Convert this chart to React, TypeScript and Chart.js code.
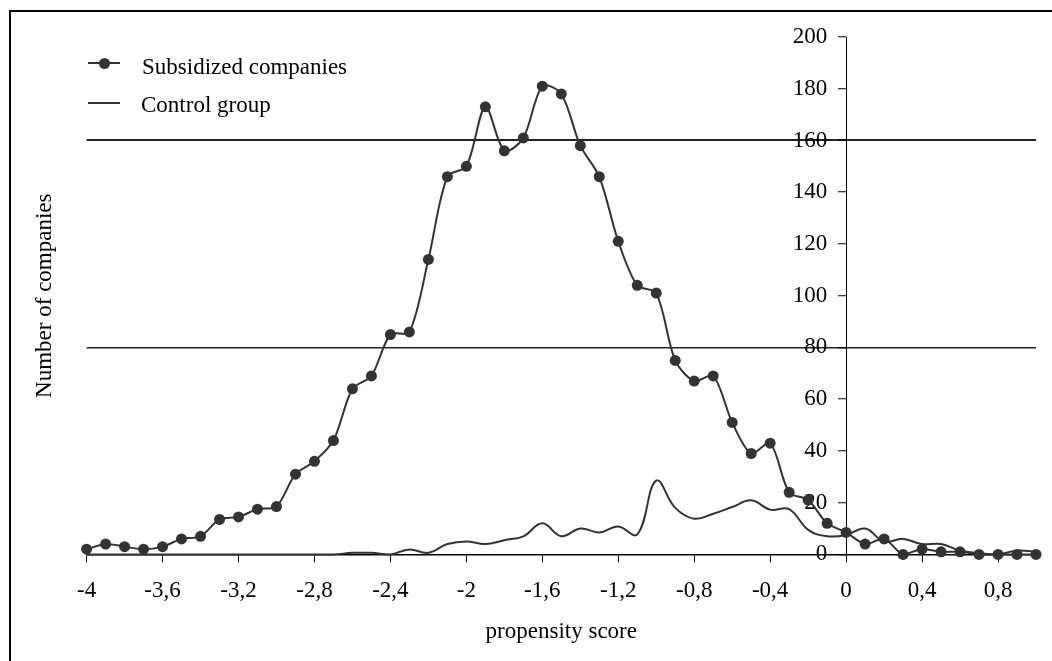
import React, { useEffect, useRef } from "react";
import { Chart, registerables } from "chart.js";

Chart.register(...registerables);

const scores = [
  -4.0, -3.9, -3.8, -3.7, -3.6, -3.5, -3.4, -3.3, -3.2, -3.1,
  -3.0, -2.9, -2.8, -2.7, -2.6, -2.5, -2.4, -2.3, -2.2, -2.1,
  -2.0, -1.9, -1.8, -1.7, -1.6, -1.5, -1.4, -1.3, -1.2, -1.1,
  -1.0, -0.9, -0.8, -0.7, -0.6, -0.5, -0.4, -0.3, -0.2, -0.1,
  0.0, 0.1, 0.2, 0.3, 0.4, 0.5, 0.6, 0.7, 0.8, 0.9, 1.0,
];

const subsidized = [
  2, 4, 3, 2, 3, 6, 7, 13.5, 14.5, 17.5,
  18.5, 31, 36, 44, 64, 69, 85, 86, 114, 146,
  150, 173, 156, 161, 181, 178, 158, 146, 121, 104,
  101, 75, 67, 69, 51, 39, 43, 24, 21, 12,
  8.5, 4, 6, 0, 2, 1, 1, 0, 0, 0, 0,
];

const control = [
  0, 0, 0, 0, 0, 0, 0, 0, 0, 0,
  0, 0, 0, 0, 0.6, 0.6, 0, 1.9, 0.6, 4,
  5, 4, 5.5, 7, 12, 7, 10, 8.5, 10.8, 7.7,
  28.5, 18, 13.8, 15.7, 18.3, 20.9, 17.3, 17.5, 9.5, 7,
  7.5, 10, 5, 6, 4, 4, 1.5, 0.5, 0, 1.5, 1,
];

const yGridValues = [80, 160];

const FONT_FAMILY = "'Liberation Serif', 'Times New Roman', serif";
const LINE = "#333333";

export default function App() {
  const canvasRef = useRef<HTMLCanvasElement | null>(null);

  useEffect(() => {
    const canvas = canvasRef.current;
    if (!canvas) return;
    const font = { family: FONT_FAMILY, size: 23 };
    const yTicks = {
      stepSize: 20,
      color: "#000",
      font,
      padding: 0,
    };
    const chart = new Chart(canvas, {
      type: "line",
      data: {
        datasets: [
          {
            label: "Subsidized companies",
            data: scores.map((x, i) => ({ x, y: subsidized[i] })),
            borderColor: LINE,
            backgroundColor: LINE,
            borderWidth: 2,
            pointRadius: 5.5,
            pointBackgroundColor: LINE,
            pointBorderWidth: 0,
            tension: 0.3,
            clip: false,
            yAxisID: "y",
          },
          {
            label: "Control group",
            data: scores.map((x, i) => ({ x, y: control[i] })),
            borderColor: LINE,
            backgroundColor: LINE,
            borderWidth: 2,
            pointRadius: 0,
            tension: 0.4,
            clip: false,
            yAxisID: "y",
          },
        ],
      },
      options: {
        animation: false,
        responsive: true,
        maintainAspectRatio: false,
        events: [],
        layout: { padding: { left: 8, top: 37, right: 16, bottom: 18 } },
        plugins: {
          legend: { display: false },
          tooltip: { enabled: false },
        },
        scales: {
          x: {
            type: "linear",
            position: "bottom",
            min: -4,
            max: 1.0,
            ticks: {
              stepSize: 0.4,
              includeBounds: false,
              autoSkip: false,
              maxRotation: 0,
              padding: 15,
              color: "#000",
              font,
              callback: (v: any) =>
                String(Math.round(Number(v) * 10) / 10).replace(".", ","),
            },
            grid: {
              drawOnChartArea: false,
              drawTicks: true,
              tickLength: 8,
              tickColor: "#000",
              tickWidth: 1,
            },
            border: { display: true, color: "#000", width: 1.5 },
            title: {
              display: true,
              text: "propensity score",
              color: "#000",
              font: { family: FONT_FAMILY, size: 23, lineHeight: 1 },
              padding: { top: 0, bottom: 0 },
            },
          },
          y: {
            type: "linear",
            position: { x: 0 },
            min: 0,
            max: 200,
            ticks: { ...yTicks, display: false },
            grid: {
              drawOnChartArea: true,
              drawTicks: true,
              tickLength: 8,
              tickColor: "#000",
              tickWidth: 1,
              lineWidth: (ctx: any) => (ctx.tick && ctx.tick.value === 160 ? 2 : 1.5),
              color: (ctx: any) =>
                ctx.tick && yGridValues.includes(ctx.tick.value)
                  ? "#222"
                  : "rgba(0,0,0,0)",
            },
            border: { display: true, color: "#000", width: 1 },
          },
          yl: {
            type: "linear",
            position: { x: -0.1 },
            min: 0,
            max: 200,
            ticks: yTicks,
            grid: { display: false, drawTicks: false },
            border: { display: false },
          },
          yt: {
            type: "linear",
            position: "left",
            display: true,
            ticks: { display: false },
            grid: { display: false, drawTicks: false },
            border: { display: false },
            title: {
              display: true,
              text: "Number of companies",
              color: "#000",
              font,
              padding: { top: 23, bottom: 28 },
            },
          },
        },
      },
    });
    return () => chart.destroy();
  }, []);

  const legendText: React.CSSProperties = {
    position: "absolute",
    fontFamily: FONT_FAMILY,
    fontSize: "23px",
    lineHeight: "23px",
    color: "#000",
    whiteSpace: "nowrap",
  };

  return (
    <div
      style={{
        position: "absolute",
        left: 0,
        top: 0,
        width: 1052,
        height: 661,
        overflow: "hidden",
        background: "#fff",
      }}
    >
      <div
        style={{
          position: "absolute",
          left: 9,
          top: 10,
          width: 1100,
          height: 700,
          borderTop: "2px solid #000",
          borderLeft: "2px solid #000",
        }}
      />
      <div style={{ position: "absolute", left: 0, top: 0, width: 1052, height: 661 }}>
        <canvas ref={canvasRef} />
      </div>
      <div style={{ position: "absolute", left: 88, top: 62, width: 32, height: 2, background: LINE }} />
      <div
        style={{
          position: "absolute",
          left: 98.5,
          top: 57.5,
          width: 11,
          height: 11,
          borderRadius: "50%",
          background: LINE,
        }}
      />
      <div style={{ ...legendText, left: 142, top: 55 }}>Subsidized companies</div>
      <div style={{ position: "absolute", left: 88, top: 101.5, width: 32, height: 2, background: LINE }} />
      <div style={{ ...legendText, left: 141, top: 92.5 }}>Control group</div>
    </div>
  );
}
